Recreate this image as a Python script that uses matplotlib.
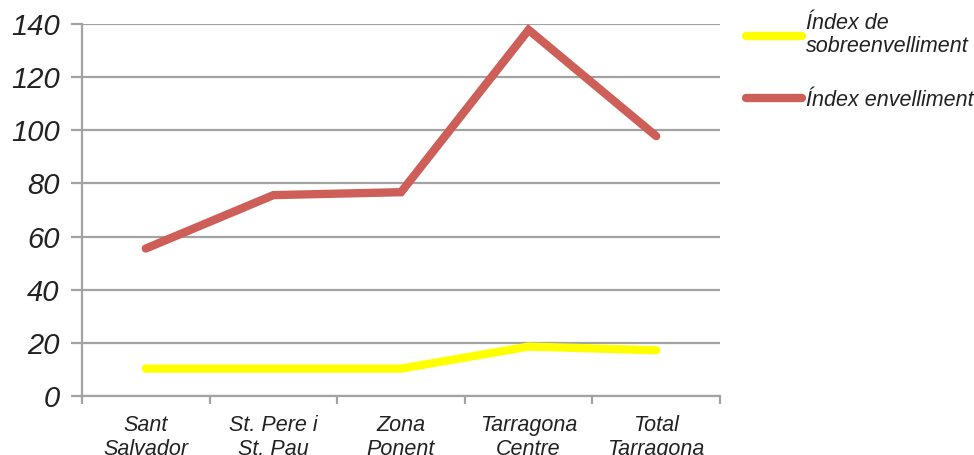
import matplotlib
matplotlib.use("Agg")
import matplotlib.pyplot as plt
from matplotlib.ticker import FixedLocator, NullLocator

plt.rcParams['font.family'] = ['Liberation Sans', 'DejaVu Sans']

categories = ["Sant\nSalvador", "St. Pere i\nSt. Pau", "Zona\nPonent", "Tarragona\nCentre", "Total\nTarragona"]
sobreenvelliment = [10.3, 10.3, 10.3, 18.6, 17.2]
envelliment = [55.5, 75.6, 76.7, 137.8, 97.8]
series_labels = ["Índex de\nsobreenvelliment", "Índex envelliment"]
yticks = [0, 20, 40, 60, 80, 100, 120, 140]

grid_c = "#a3a3a3"
text_c = "#222222"

fig = plt.figure(figsize=(9.74, 4.55), dpi=100)
ax = fig.add_axes([82/974, 59/455, (720-82)/974, (396-24)/455])

x = list(range(len(categories)))
ax.plot(x, sobreenvelliment, color="#ffff00", lw=6, solid_capstyle="round",
        solid_joinstyle="miter", label=series_labels[0], clip_on=False, zorder=3)
ax.plot(x, envelliment, color="#cd5f58", lw=6, solid_capstyle="round",
        solid_joinstyle="miter", label=series_labels[1], clip_on=False, zorder=3)

ax.set_xlim(-0.5, len(categories) - 0.5)
ax.set_ylim(0, 140)
ax.set_yticks(yticks)
ax.set_yticklabels([str(v) for v in yticks], fontsize=21, style="italic", color=text_c)
ax.yaxis.grid(True, color=grid_c, lw=1.6)
ax.set_axisbelow(True)

ax.set_xticks(x)
ax.set_xticklabels(categories, fontsize=15.5, style="italic", color=text_c, linespacing=1.15)
ax.xaxis.set_minor_locator(FixedLocator([i - 0.5 for i in range(len(categories) + 1)]))
ax.tick_params(axis="x", which="major", length=0, pad=14)
ax.tick_params(axis="x", which="minor", length=6, width=1.6, color=grid_c)
ax.tick_params(axis="y", length=8, width=1.6, color=grid_c, pad=8)

for s in ["top", "right"]:
    ax.spines[s].set_visible(False)
for s in ["left", "bottom"]:
    ax.spines[s].set_color(grid_c)
    ax.spines[s].set_linewidth(1.6)

leg = ax.legend(loc="upper left", bbox_to_anchor=(746/974, 1 - 13/455),
                bbox_transform=fig.transFigure, frameon=False,
                prop={"size": 15.5, "style": "italic"}, handlelength=2.6,
                handletextpad=0.2, labelspacing=1.5, borderpad=0, borderaxespad=0)
for t in leg.get_texts():
    t.set_color(text_c)
    t.set_linespacing(1.15)

fig.savefig("out.png", dpi=100)
